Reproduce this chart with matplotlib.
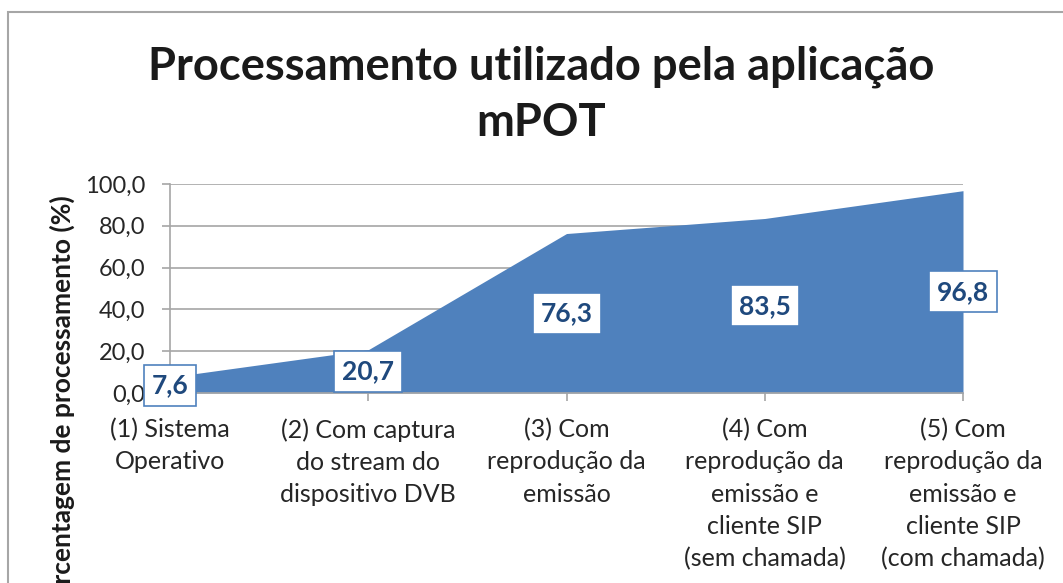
import matplotlib.pyplot as plt
from matplotlib.patches import Rectangle
from matplotlib.transforms import ScaledTranslation

plt.rcParams['font.family'] = ['Lato', 'DejaVu Sans']

# dados
categorias = ['(1) Sistema\nOperativo',
              '(2) Com captura\ndo stream do\ndispositivo DVB',
              '(3) Com\nreprodução da\nemissão',
              '(4) Com\nreprodução da\nemissão e\ncliente SIP\n(sem chamada)',
              '(5) Com\nreprodução da\nemissão e\ncliente SIP\n(com chamada)']
valores = [7.6, 20.7, 76.3, 83.5, 96.8]
y_ticks = [0, 20, 40, 60, 80, 100]

AZUL = '#4F81BD'
AZUL_ESCURO = '#1F497D'
CINZA = '#A6A6A6'

W, H = 1063, 583
fig = plt.figure(figsize=(W / 100, H / 100), dpi=100)

# moldura do gráfico
fig.patches.append(Rectangle((8 / W, -0.1), 1.2, 1 - 12 / H + 0.1,
                             transform=fig.transFigure, fill=False,
                             edgecolor=CINZA, linewidth=1.5))

ax = fig.add_axes([170 / W, (H - 393) / H, (963 - 170) / W, (393 - 184) / H])
x = list(range(len(valores)))
ax.fill_between(x, valores, 0, color=AZUL, linewidth=0, zorder=2)

ax.set_xlim(0, len(valores) - 1)
ax.set_ylim(0, 100)
ax.set_yticks(y_ticks)
ax.set_yticklabels([f'{v:.1f}'.replace('.', ',') for v in y_ticks], fontsize=17, color='#262626')
ax.set_xticks(x)
ax.set_xticklabels(categorias, fontsize=18, color='#262626', linespacing=1.48)
ax.tick_params(axis='y', length=6, color=CINZA, width=1.2, pad=12)
ax.tick_params(axis='x', length=6, color=CINZA, width=1.2, pad=12)
ax.grid(axis='y', color=CINZA, linewidth=1.2, zorder=1)
ax.set_axisbelow(True)
for s in ['top', 'right']:
    ax.spines[s].set_visible(False)
for s in ['left', 'bottom']:
    ax.spines[s].set_color(CINZA)
    ax.spines[s].set_linewidth(1.2)

# rótulos de valores (caixa branca no meio da altura da área)
renderer = fig.canvas.get_renderer()
for xi, v in zip(x, valores):
    t = ax.text(xi, v / 2, f'{v:.1f}'.replace('.', ','), ha='center', va='center',
                fontsize=19, fontweight='bold', color=AZUL_ESCURO, zorder=5, clip_on=False)
    bb = t.get_window_extent(renderer)
    w, h = bb.width + 16, 41
    caixa = Rectangle((-w / 2, -h / 2), w, h, facecolor='white', edgecolor=AZUL,
                      linewidth=1.2, zorder=4, clip_on=False,
                      transform=ScaledTranslation(xi, v / 2, ax.transData))
    ax.add_patch(caixa)

fig.text(541 / W, 1 - 95 / H, 'Processamento utilizado pela aplicação\nmPOT',
         ha='center', va='center', fontsize=32.6, fontweight='bold', color='#1a1a1a',
         linespacing=1.41)

fig.text(62 / W, 1 - 405 / H, 'Percentagem de processamento (%)', rotation=90,
         ha='center', va='center', fontsize=19, fontweight='bold', color='#1a1a1a')

fig.savefig('out.png', dpi=100)
